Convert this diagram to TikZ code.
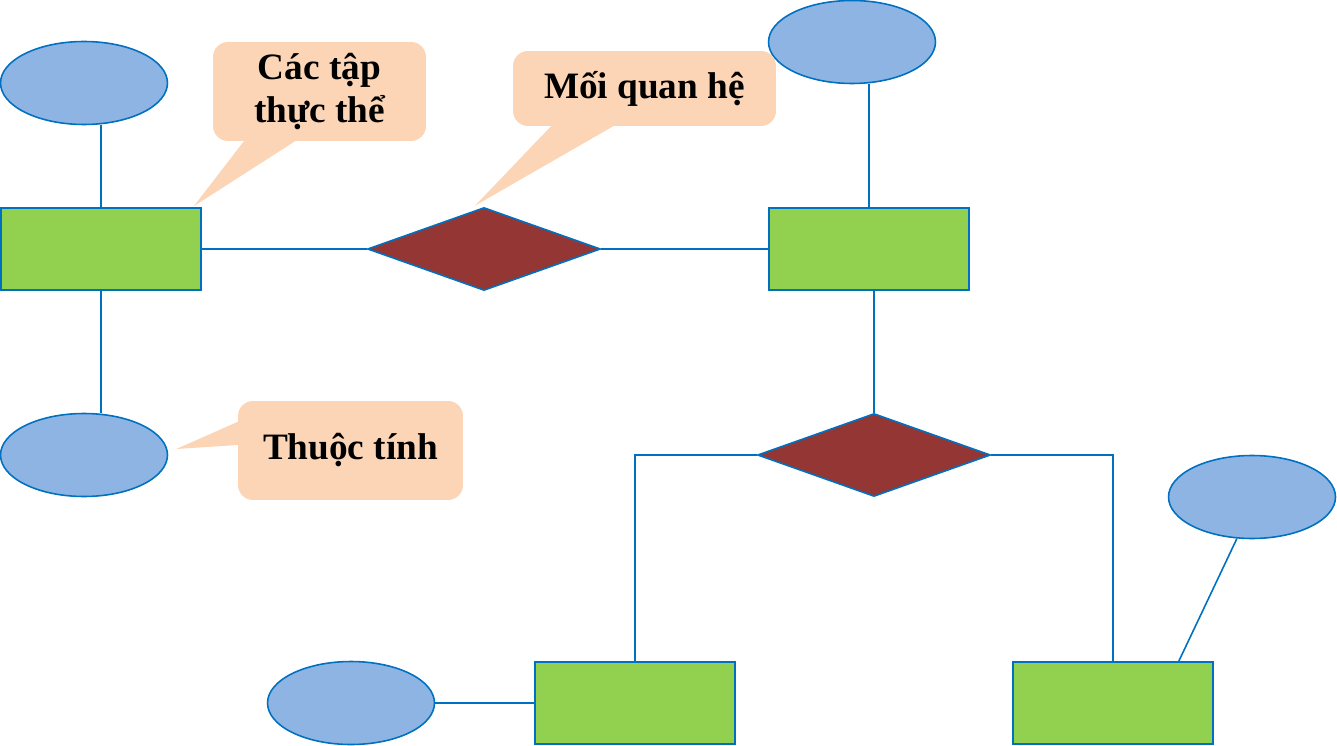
\documentclass[tikz,border=0pt]{standalone}
\usepackage{fontspec}
\setmainfont{Liberation Serif}
\usetikzlibrary{shapes.geometric,calc}
\definecolor{entgreen}{HTML}{92D050}
\definecolor{attblue}{HTML}{8EB4E3}
\definecolor{relbrown}{HTML}{943634}
\definecolor{edgeblue}{HTML}{0070C0}
\definecolor{notepeach}{HTML}{FBD5B5}
\tikzset{
	entity/.style={draw=edgeblue, fill=entgreen, line width=0.9pt, minimum width=4cm, minimum height=1.64cm, inner sep=0pt},
	attrib/.style={ellipse, draw=edgeblue, fill=attblue, line width=0.9pt, minimum width=3.34cm, minimum height=1.66cm, inner sep=0pt},
	relation/.style={diamond, draw=edgeblue, fill=relbrown, line width=0.9pt, minimum width=4.66cm, minimum height=1.66cm, inner sep=0pt},
	link/.style={edgeblue, line width=0.9pt},
	note/.style={fill=notepeach, rounded corners=0.3cm, font=\fontsize{21.2}{25}\selectfont\bfseries, align=center, inner sep=0pt},
}
\begin{document}
\begin{tikzpicture}[x=0.02cm, y=-0.02cm]
	\useasboundingbox (0,0) rectangle (1337,746);

	% thuc the
	\node[entity] (E1) at (101,249) {};
	\node[entity] (E2) at (869,249) {};
	\node[entity] (E3) at (635,703) {};
	\node[entity] (E4) at (1113,703) {};

	% moi quan he
	\node[relation] (R1) at (484,249) {};
	\node[relation] (R2) at (874,455) {};

	% thuoc tinh
	\node[attrib] (A1) at (84,83) {};
	\node[attrib] (A2) at (84,455) {};
	\node[attrib] (A3) at (852,42) {};
	\node[attrib] (A4) at (1252,497) {};
	\node[attrib] (A5) at (351,703) {};

	\draw[link] (E1.north) -- (E1.north |- A1.south);
	\draw[link] (E1.south) -- (E1.south |- A2.north);
	\draw[link] (E1.east) -- (R1.west);
	\draw[link] (R1.east) -- (E2.west);
	\draw[link] (E2.north) -- (E2.north |- A3.south);
	\draw[link] (R2.north) -- (R2.north |- E2.south);
	\draw[link] (R2.west) -| (E3.north);
	\draw[link] (R2.east) -| (E4.north);
	\draw[link] (A4.-110) -- ($(E4.north east)+(-35,0)$);
	\draw[link] (A5.east) -- (E3.west);

	% chu thich
	\node[note, minimum width=4.26cm, minimum height=1.98cm] (C1) at (319.5,91.5) {Các tập\\thực thể};
	\node[note, minimum width=5.26cm, minimum height=1.5cm] (C2) at (644.5,88.5) {Mối quan hệ};
	\node[note, minimum width=4.5cm, minimum height=1.98cm] (C3) at (350.5,450.5) {Thuộc tính};

	\fill[notepeach] ($(C1.south west)+(35,-5)$) -- ($(C1.south west)+(90,-5)$) -- ($(E1.north east)+(-8,-1)$) -- cycle;
	\fill[notepeach] ($(C2.south west)+(43,-5)$) -- ($(C2.south west)+(109,-5)$) -- ($(R1.north)+(-9,-1)$) -- cycle;
	\fill[notepeach] ($(C3.north west)+(5,19)$) -- ($(C3.north west)+(5,44)$) -- ($(A2.east)+(8,-6)$) -- cycle;
\end{tikzpicture}
\end{document}
